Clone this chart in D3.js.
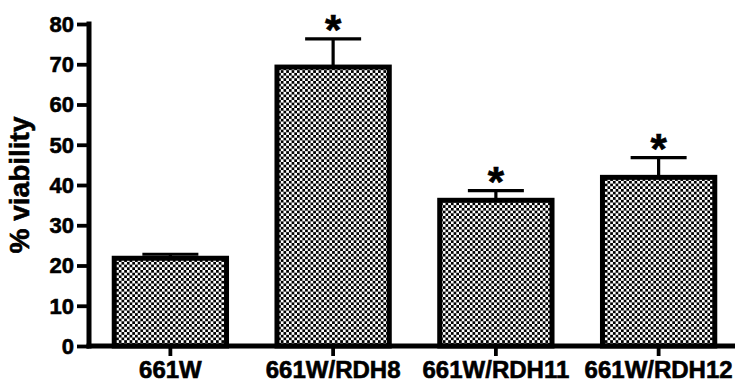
<!DOCTYPE html>
<html>
<head>
<meta charset="utf-8">
<script src="https://cdn.jsdelivr.net/npm/d3@7"></script>
<style>
  html, body { margin: 0; padding: 0; background: #fff; }
  svg { display: block; }
  text { font-family: "Liberation Sans", Arial, sans-serif; font-weight: bold; fill: #000; stroke: #000; stroke-width: 0.6px; }
</style>
</head>
<body>
<script>
// Cell lines and mean viability (%) with SEM
const categories = ["661W", "661W/RDH8", "661W/RDH11", "661W/RDH12"];
const viability = [21.8, 69.3, 36.2, 41.9];
const sem = [1.0, 7.0, 2.4, 4.9];
const significant = [false, true, true, true];
const yTicks = [0, 10, 20, 30, 40, 50, 60, 70, 80];

const W = 735, H = 382;
const margin = { left: 89, top: 24, right: -5, bottom: 36 };

const svg = d3.select("body").append("svg")
  .attr("width", W).attr("height", H);

// Checkerboard fill for the bars
const defs = svg.append("defs");
const pat = defs.append("pattern")
  .attr("id", "checker")
  .attr("patternUnits", "userSpaceOnUse")
  .attr("width", 5.4).attr("height", 5.4);
pat.append("rect").attr("width", 5.4).attr("height", 5.4).attr("fill", "#fff");
pat.append("rect").attr("x", 0).attr("y", 0).attr("width", 2.7).attr("height", 2.7).attr("fill", "#000");
pat.append("rect").attr("x", 2.7).attr("y", 2.7).attr("width", 2.7).attr("height", 2.7).attr("fill", "#000");

const x = d3.scaleBand()
  .domain(categories)
  .range([margin.left, W - margin.right])
  .paddingInner(0.31)
  .paddingOuter(0.155);

const y = d3.scaleLinear()
  .domain([0, 80])
  .range([H - margin.bottom, margin.top]);

// Bars
svg.append("g").selectAll("rect")
  .data(categories)
  .join("rect")
  .attr("x", d => x(d))
  .attr("width", x.bandwidth())
  .attr("y", (d, i) => y(viability[i]))
  .attr("height", (d, i) => y(0) - y(viability[i]))
  .attr("fill", "url(#checker)")
  .attr("stroke", "#000")
  .attr("stroke-width", 5);

// Error bars (upper only)
const capHalf = 28;
const err = svg.append("g").attr("stroke", "#000").attr("stroke-width", 3.2);
categories.forEach((c, i) => {
  const cx = x(c) + x.bandwidth() / 2;
  err.append("line")
    .attr("x1", cx).attr("x2", cx)
    .attr("y1", y(viability[i])).attr("y2", y(viability[i] + sem[i]));
  err.append("line")
    .attr("x1", cx - capHalf).attr("x2", cx + capHalf)
    .attr("y1", y(viability[i] + sem[i])).attr("y2", y(viability[i] + sem[i]));
});

// Significance markers
svg.append("g").selectAll("text.star")
  .data(categories.filter((c, i) => significant[i]))
  .join("text")
  .attr("class", "star")
  .attr("x", c => x(c) + x.bandwidth() / 2)
  .attr("y", c => y(viability[categories.indexOf(c)] + sem[categories.indexOf(c)]) + 5)
  .attr("text-anchor", "middle")
  .attr("font-size", 42)
  .text("*");

// Y axis
const yAxis = d3.axisLeft(y).tickValues(yTicks).tickSize(12).tickPadding(3);
const gy = svg.append("g")
  .attr("transform", `translate(${margin.left},0)`)
  .call(yAxis);
gy.select(".domain").attr("stroke-width", 5).attr("d", `M0,${y(80) - 2.5}V${y(0) + 2.5}`);
gy.selectAll(".tick line").attr("stroke-width", 3.8);
gy.selectAll(".tick text")
  .attr("font-size", 22)
  .attr("dy", "0.34em")
  .attr("font-family", "Liberation Sans, Arial, sans-serif")
  .attr("font-weight", "bold")
  .attr("fill", "#000");

// X axis
const xAxis = d3.axisBottom(x).tickSize(10).tickPadding(5);
const gx = svg.append("g")
  .attr("transform", `translate(0,${y(0)})`)
  .call(xAxis);
gx.select(".domain").attr("stroke-width", 5).attr("d", `M${margin.left - 2.5},0H${W}`);
gx.selectAll(".tick line").attr("stroke-width", 3.8);
gx.selectAll(".tick text")
  .attr("font-size", 24)
  .attr("font-family", "Liberation Sans, Arial, sans-serif")
  .attr("font-weight", "bold")
  .attr("fill", "#000");

// Y axis title
svg.append("text")
  .attr("transform", `translate(29,${(y(0) + y(80)) / 2}) rotate(-90)`)
  .attr("text-anchor", "middle")
  .attr("font-size", 28)
  .text("% viability");
</script>
</body>
</html>
